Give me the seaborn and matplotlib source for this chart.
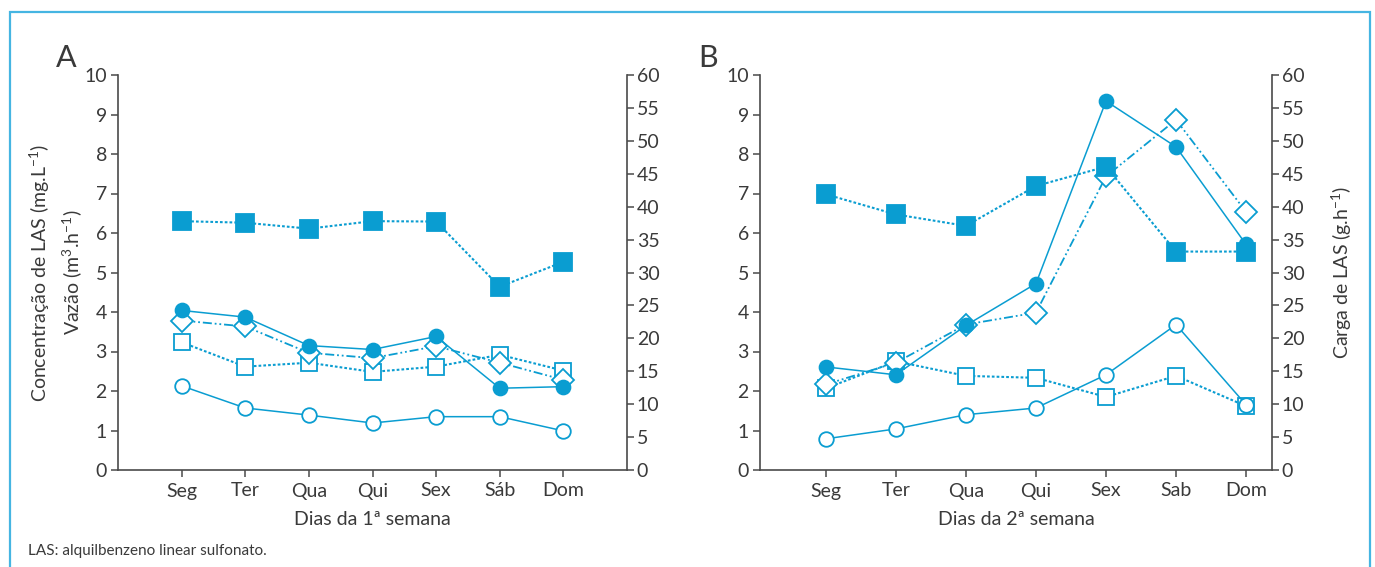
import matplotlib
matplotlib.use("Agg")
import matplotlib.pyplot as plt
import matplotlib.patches as mpatches
import seaborn as sns
import pandas as pd
import numpy as np

# ---------------- data ----------------
dias_a = ["Seg", "Ter", "Qua", "Qui", "Sex", "Sáb", "Dom"]
dias_b = ["Seg", "Ter", "Qua", "Qui", "Sex", "Sab", "Dom"]

# Panel A (1st week) - left axis (0-10)
a_filled_sq = [6.30, 6.26, 6.11, 6.30, 6.29, 4.64, 5.27]
a_filled_ci = [4.04, 3.87, 3.15, 3.05, 3.38, 2.07, 2.11]
a_open_ci = [2.13, 1.57, 1.39, 1.19, 1.35, 1.35, 0.99]
# Panel A - right axis (0-60)
a_diamond = [22.7, 21.8, 17.8, 17.0, 18.8, 16.3, 13.7]
a_open_sq = [19.4, 15.7, 16.3, 14.9, 15.7, 17.5, 15.1]

# Panel B (2nd week) - left axis
b_filled_sq = [6.98, 6.47, 6.18, 7.19, 7.68, 5.53, 5.53]
b_filled_ci = [2.61, 2.41, 3.66, 4.72, 9.34, 8.18, 5.71]
b_open_ci = [0.79, 1.04, 1.40, 1.57, 2.41, 3.68, 1.65]
# Panel B - right axis
b_diamond = [13.0, 16.3, 22.1, 23.9, 44.6, 53.2, 39.2]
b_open_sq = [12.4, 16.5, 14.3, 14.0, 11.1, 14.3, 9.7]

BLUE = "#0a9dd1"
TXT = "#3a3a3a"
SPINE = "#4a4a4a"

sns.set_theme(style="white")
plt.rcParams["font.family"] = ["Lato", "DejaVu Sans"]
plt.rcParams["text.color"] = TXT
plt.rcParams["mathtext.fontset"] = "custom"
plt.rcParams["mathtext.rm"] = "Lato"
plt.rcParams["mathtext.it"] = "Lato"
plt.rcParams["mathtext.default"] = "regular"

fig = plt.figure(figsize=(13.75, 5.67), dpi=100)

dotted = (0, (1.3, 1.0))
dashdotdot = (0, (5, 1.6, 1, 1.6, 1, 1.6))


def draw(ax, x, y, marker, ls, filled, ms, lw, z):
    df = pd.DataFrame({"x": x, "y": y})
    sns.lineplot(data=df, x="x", y="y", ax=ax, color=BLUE, linestyle=ls,
                 linewidth=lw, marker=marker, markersize=ms,
                 markerfacecolor=BLUE if filled else "white",
                 markeredgecolor=BLUE, markeredgewidth=1.3,
                 zorder=z, legend=False)


def panel(rect, dias, fsq, fci, oci, dia, osq, xlim, xlabel, ylabel_left, ylabel_right):
    ax = fig.add_axes(rect)
    ax2 = ax.twinx()
    x = np.arange(len(dias))
    # right-axis series
    draw(ax2, x, osq, "s", dotted, False, 12.0, 1.5, 2)
    draw(ax2, x, dia, "D", dashdotdot, False, 11.0, 1.3, 4)
    # left-axis series
    draw(ax, x, oci, "o", "-", False, 10.5, 1.1, 3)
    draw(ax, x, fci, "o", "-", True, 10.0, 1.1, 5)
    draw(ax, x, fsq, "s", dotted, True, 12.5, 1.5, 6)
    ax.set_zorder(ax2.get_zorder() + 1)
    ax.patch.set_visible(False)

    ax.set_xlim(*xlim)
    ax.set_ylim(0, 10)
    ax2.set_ylim(0, 60)
    ax.set_yticks(range(0, 11))
    ax2.set_yticks(range(0, 61, 5))
    ax.set_xticks(x)
    ax.set_xticklabels(dias)
    for a in (ax, ax2):
        a.tick_params(axis="both", labelsize=14, labelcolor=TXT, color=SPINE,
                      length=5, width=1.1, pad=3)
        for s in a.spines.values():
            s.set_color(SPINE)
            s.set_linewidth(1.2)
        a.spines["top"].set_visible(False)
    ax.spines["right"].set_visible(False)
    ax2.spines["left"].set_visible(False)
    ax2.spines["bottom"].set_visible(False)
    ax.tick_params(axis="x", bottom=True, pad=4)
    ax.tick_params(axis="y", left=True)
    ax2.tick_params(axis="y", right=True, pad=2)
    ax.set_xlabel(xlabel, fontsize=14, color=TXT, labelpad=8)
    ax.set_ylabel(ylabel_left, fontsize=14, color=TXT, linespacing=1.45)
    ax.yaxis.set_label_coords(-0.066, 0.5)
    ax2.set_ylabel(ylabel_right, fontsize=14, color=TXT, labelpad=18)
    ax.grid(False)
    ax2.grid(False)
    return ax


panel([118 / 1375, 97 / 567, 509 / 1375, 395 / 567], dias_a,
      a_filled_sq, a_filled_ci, a_open_ci, a_diamond, a_open_sq,
      (-1, 7), "Dias da 1ª semana",
      "Concentração de LAS (mg.L$^{-1}$)\nVazão (m$^{3}$.h$^{-1}$)", "")
panel([760 / 1375, 97 / 567, 512 / 1375, 395 / 567], dias_b,
      b_filled_sq, b_filled_ci, b_open_ci, b_diamond, b_open_sq,
      (-0.94, 6.37), "Dias da 2ª semana",
      "", "Carga de LAS (g.h$^{-1}$)")

fig.text(66 / 1375, 1 - 58 / 567, "A", fontsize=22, color=TXT, ha="center", va="center")
fig.text(708 / 1375, 1 - 58 / 567, "B", fontsize=22, color=TXT, ha="center", va="center")
fig.text(28 / 1375, 1 - 551 / 567, "LAS: alquilbenzeno linear sulfonato.", fontsize=11,
         color=TXT, ha="left", va="center")

# outer frame
fig.patches.append(mpatches.Rectangle((10 / 1375, -0.02), 1360 / 1375, 1 - 12 / 567 + 0.02,
                                      transform=fig.transFigure, fill=False,
                                      edgecolor="#45b5e2", linewidth=1.6))

fig.savefig("out.png", dpi=100)
